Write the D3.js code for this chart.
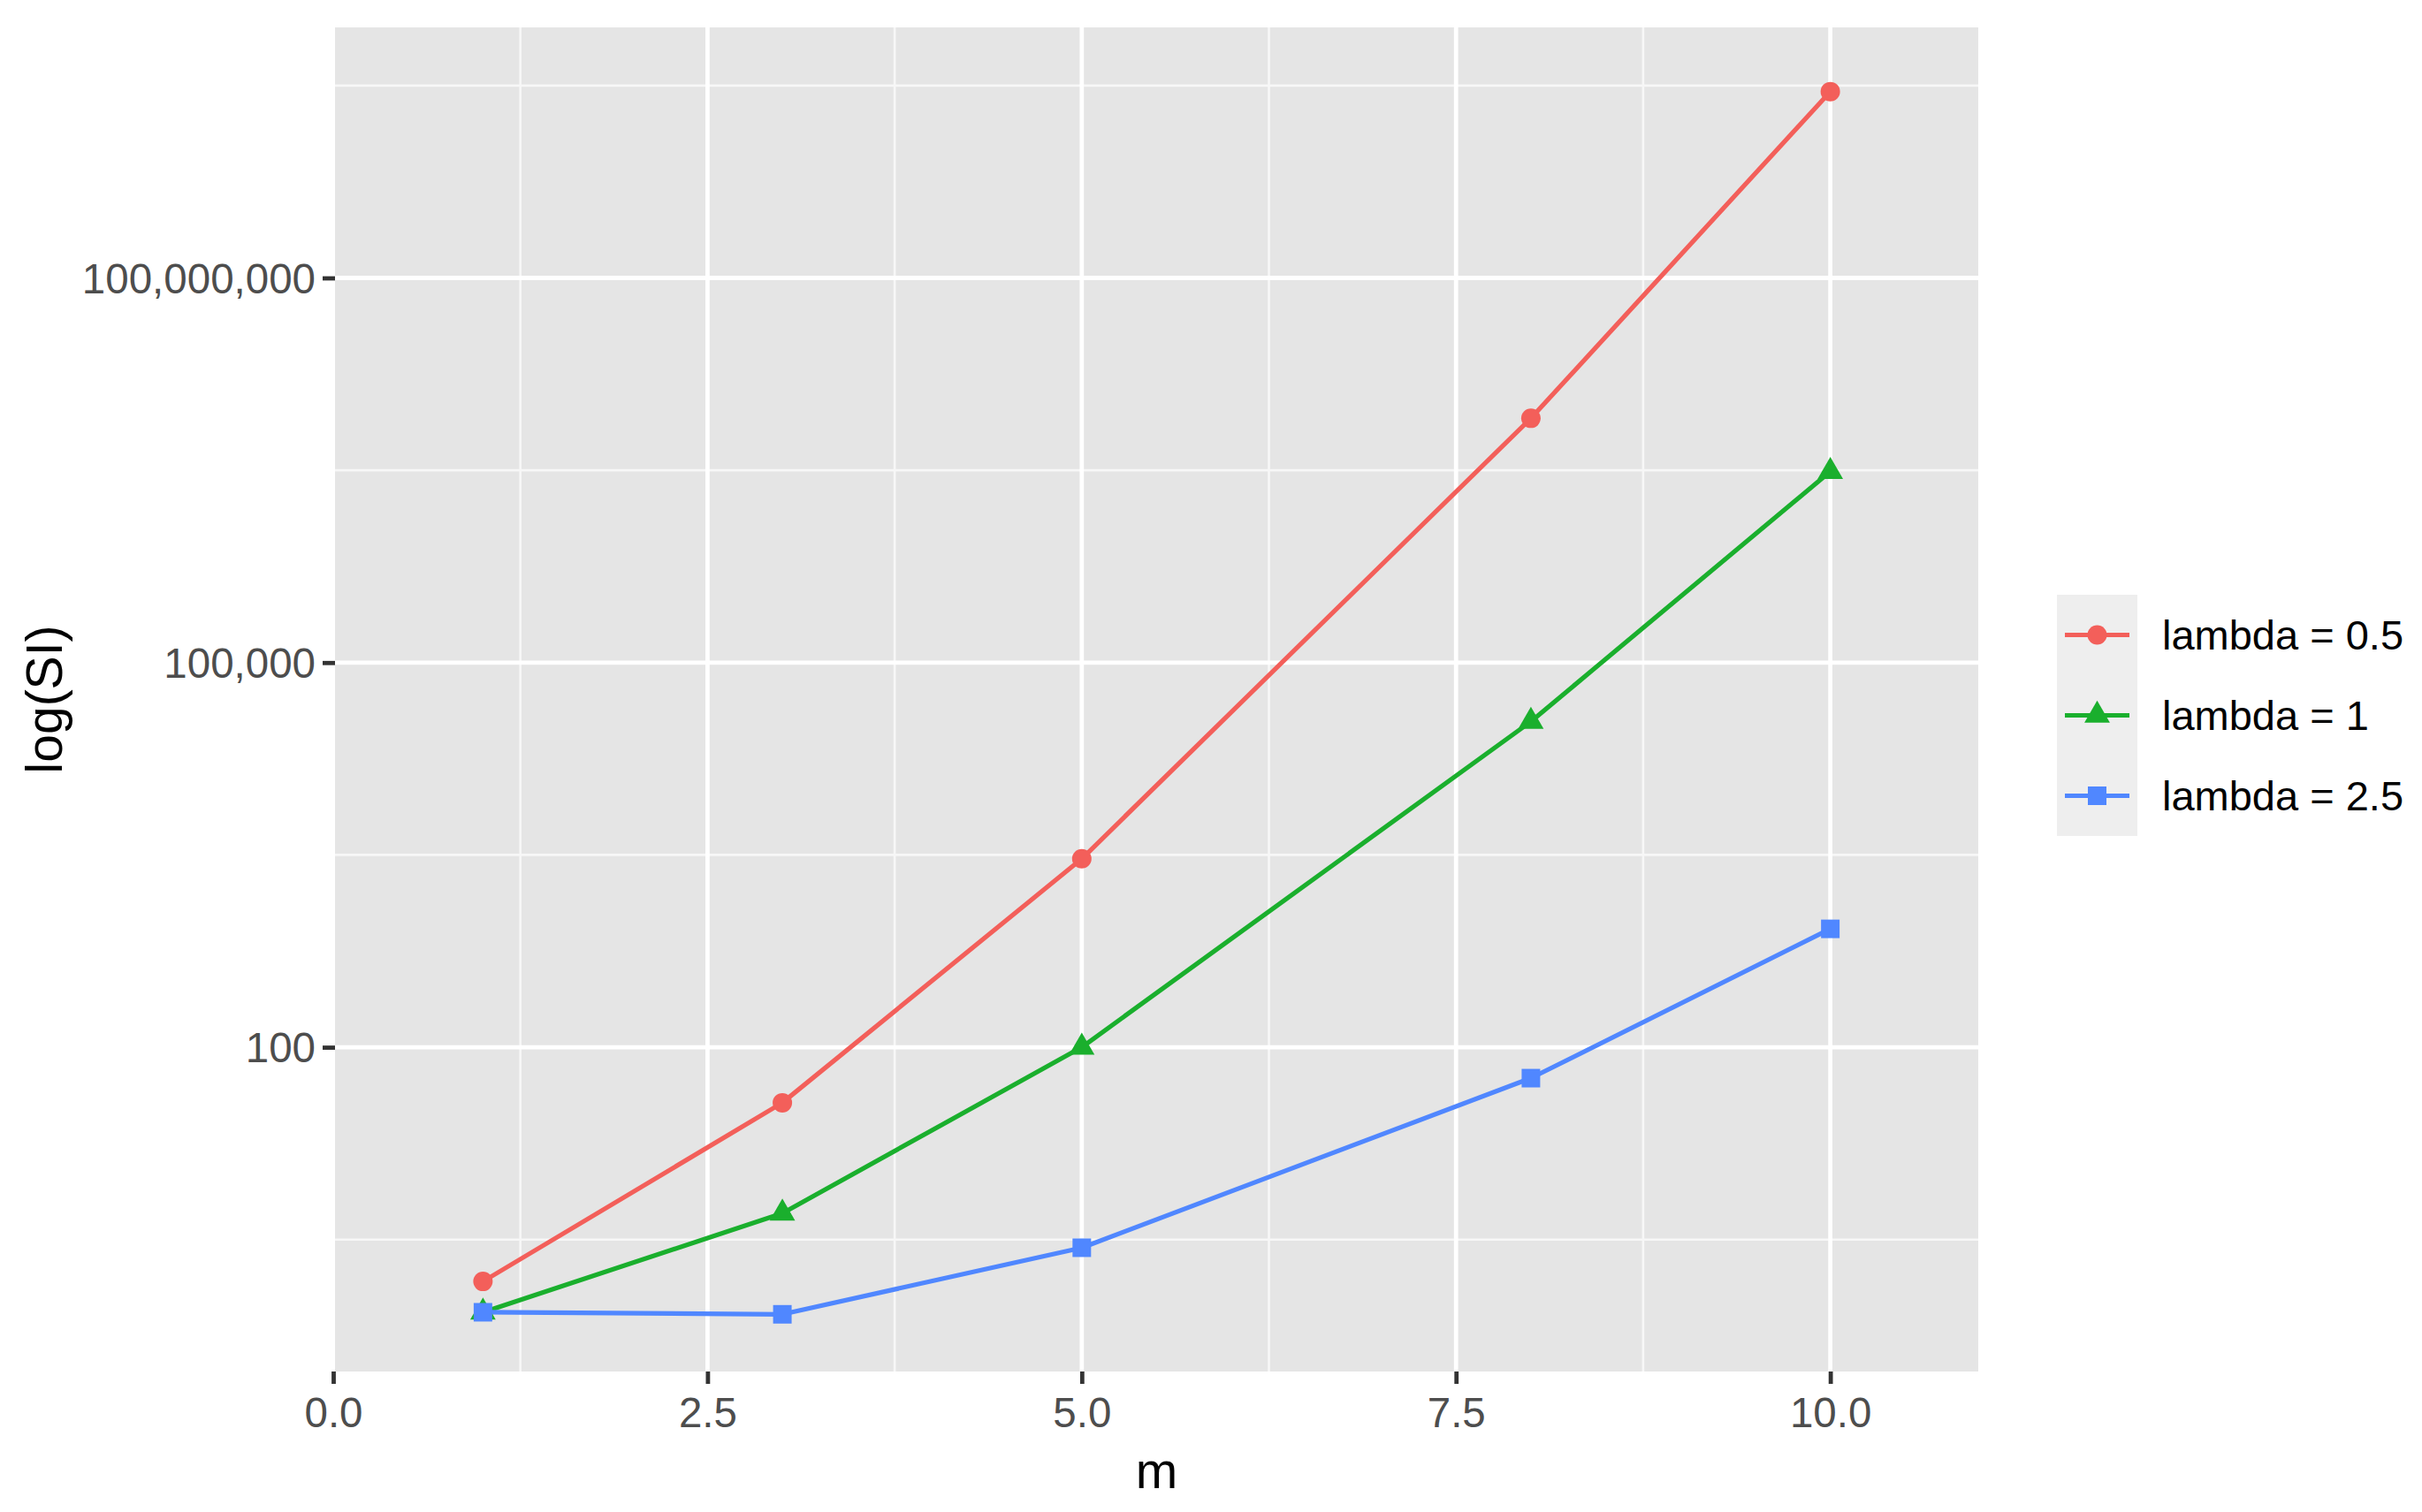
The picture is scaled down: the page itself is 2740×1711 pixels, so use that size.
<!DOCTYPE html>
<html>
<head>
<meta charset="utf-8">
<script src="https://cdn.jsdelivr.net/npm/d3@7"></script>
<style>
  html, body { margin: 0; padding: 0; background: #ffffff; }
  svg { display: block; }
  text { font-family: "Liberation Sans", Arial, Helvetica, sans-serif; }
</style>
</head>
<body>
<script>
// ---------------- data ----------------
const mValues = [1, 3, 5, 8, 10];
const seriesNames = ["lambda = 0.5", "lambda = 1", "lambda = 2.5"];
const siLambda05 = [1.49, 36.9, 2950, 8.04e6, 2.84e9];
const siLambda1  = [0.857, 5.07, 100, 34700, 3.09e6];
const siLambda25 = [0.857, 0.826, 2.73, 57.4, 838];
const xTickValues = [0, 2.5, 5, 7.5, 10];
const xMinorValues = [1.25, 3.75, 6.25, 8.75];
const yTickValues = [100, 100000, 100000000];
const yMinorValues = [3.1623, 3162.3, 3162278, 3162277660];
const xTitle = "m";
const yTitle = "log(SI)";

// ---------------- style ----------------
const W = 2740, H = 1711;
const panel = { left: 379, right: 2238, top: 31, bottom: 1552 };
const colors = ["#F35F5A", "#1AAF2D", "#5087FF"];
const shapes = [d3.symbolCircle, d3.symbolTriangle, d3.symbolSquare];
const shapeSizes = [380, 360, 440];
const lineW = 5.2;

const series = seriesNames.map((name, i) => ({
  name,
  color: colors[i],
  shape: shapes[i],
  size: shapeSizes[i],
  values: [siLambda05, siLambda1, siLambda25][i].map((v, j) => ({ m: mValues[j], v }))
}));

const svg = d3.select("body").append("svg").attr("width", W).attr("height", H);

const x = d3.scaleLinear().domain([0, 11]).range([377, 2240]);
const y = d3.scaleLog().domain([Math.pow(10, -0.529), Math.pow(10, 9.954)]).range([panel.bottom, panel.top]);

// panel background
svg.append("rect")
  .attr("x", panel.left).attr("y", panel.top)
  .attr("width", panel.right - panel.left).attr("height", panel.bottom - panel.top)
  .attr("fill", "#E5E5E5");

const grid = svg.append("g");
// minor grid
grid.selectAll("line.ymin").data(yMinorValues).enter().append("line")
  .attr("x1", panel.left).attr("x2", panel.right)
  .attr("y1", d => y(d)).attr("y2", d => y(d))
  .attr("stroke", "#F7F7F7").attr("stroke-width", 2.6);
grid.selectAll("line.xmin").data(xMinorValues).enter().append("line")
  .attr("y1", panel.top).attr("y2", panel.bottom)
  .attr("x1", d => x(d)).attr("x2", d => x(d))
  .attr("stroke", "#F7F7F7").attr("stroke-width", 2.6);
// major grid
grid.selectAll("line.ymaj").data(yTickValues).enter().append("line")
  .attr("x1", panel.left).attr("x2", panel.right)
  .attr("y1", d => y(d)).attr("y2", d => y(d))
  .attr("stroke", "#FFFFFF").attr("stroke-width", 4.8);
grid.selectAll("line.xmaj").data(xTickValues.filter(d => x(d) >= panel.left)).enter().append("line")
  .attr("y1", panel.top).attr("y2", panel.bottom)
  .attr("x1", d => x(d)).attr("x2", d => x(d))
  .attr("stroke", "#FFFFFF").attr("stroke-width", 4.8);

// axes
const xAxis = d3.axisBottom(x).tickValues(xTickValues).tickFormat(d3.format(".1f"))
  .tickSize(14).tickPadding(15);
const gx = svg.append("g").attr("transform", `translate(0,${panel.bottom})`).call(xAxis);
gx.select(".domain").remove();
gx.selectAll(".tick line").attr("stroke", "#333333").attr("stroke-width", 4.8);
gx.selectAll(".tick text").attr("fill", "#4D4D4D").attr("font-size", 47.5)
  .attr("dy", "0.71em");

const yAxis = d3.axisLeft(y).tickValues(yTickValues).tickFormat(d3.format(","))
  .tickSize(14).tickPadding(8);
const gy = svg.append("g").attr("transform", `translate(${panel.left},0)`).call(yAxis);
gy.select(".domain").remove();
gy.selectAll(".tick line").attr("stroke", "#333333").attr("stroke-width", 4.8);
gy.selectAll(".tick text").attr("fill", "#4D4D4D").attr("font-size", 47.5)
  .attr("dy", "0.35em");

// axis titles
svg.append("text").attr("x", (panel.left + panel.right) / 2).attr("y", 1684)
  .attr("text-anchor", "middle").attr("font-size", 57).attr("fill", "#000")
  .text(xTitle);
svg.append("text")
  .attr("transform", `translate(${70},${(panel.top + panel.bottom) / 2}) rotate(-90)`)
  .attr("text-anchor", "middle").attr("font-size", 57).attr("fill", "#000")
  .text(yTitle);

// lines
const lineGen = d3.line().x(d => x(d.m)).y(d => y(d.v));
const plot = svg.append("g");
plot.selectAll("path.series").data(series).enter().append("path")
  .attr("d", d => lineGen(d.values))
  .attr("fill", "none").attr("stroke", d => d.color).attr("stroke-width", lineW)
  .attr("stroke-linejoin", "round");

// points
series.forEach(s => {
  plot.selectAll(null).data(s.values).enter().append("path")
    .attr("transform", d => `translate(${x(d.m)},${y(d.v)})`)
    .attr("d", d3.symbol().type(s.shape).size(s.size))
    .attr("fill", s.color);
});

// legend
const legend = svg.append("g");
const keyX = 2327, keyY0 = 673, keyH = 91, keyW = 91;
series.forEach((s, i) => {
  const ky = keyY0 + i * keyH;
  legend.append("rect").attr("x", keyX).attr("y", ky).attr("width", keyW).attr("height", keyH)
    .attr("fill", "#EEEEEE");
  legend.append("line")
    .attr("x1", keyX + 9).attr("x2", keyX + keyW - 9)
    .attr("y1", ky + keyH / 2).attr("y2", ky + keyH / 2)
    .attr("stroke", s.color).attr("stroke-width", lineW);
  legend.append("path")
    .attr("transform", `translate(${keyX + keyW / 2},${ky + keyH / 2})`)
    .attr("d", d3.symbol().type(s.shape).size(s.size))
    .attr("fill", s.color);
  legend.append("text")
    .attr("x", 2446).attr("y", ky + keyH / 2).attr("dy", "0.35em")
    .attr("font-size", 47).attr("fill", "#000")
    .text(s.name);
});
</script>
</body>
</html>
